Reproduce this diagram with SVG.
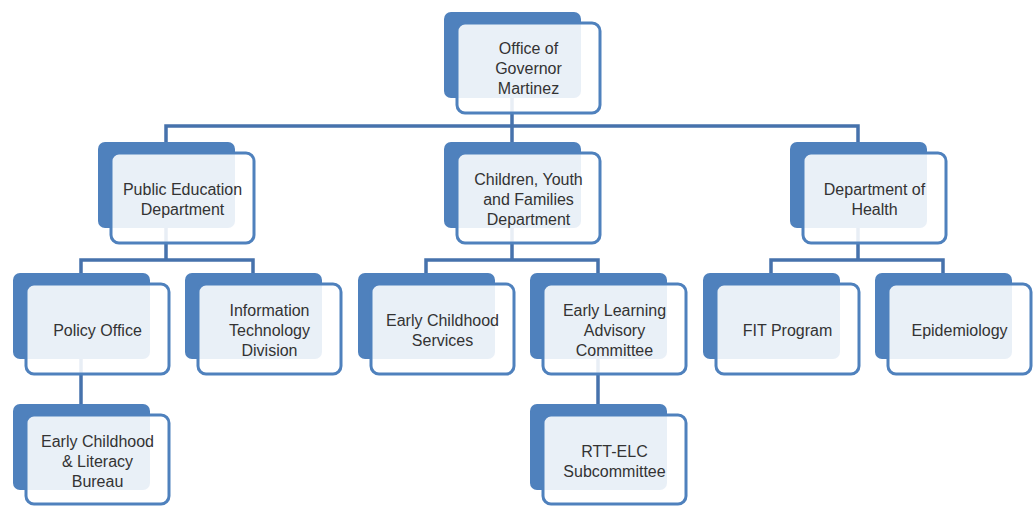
<svg xmlns="http://www.w3.org/2000/svg" width="1033" height="506" viewBox="0 0 1033 506">
<style>
.bk{fill:#4F81BD}
.fr{fill:#FFFFFF;fill-opacity:0.88;stroke:#4F81BD;stroke-width:3}
.cn{fill:none;stroke:#4672AC;stroke-width:3.5}
text{font-family:"Liberation Sans",Arial,sans-serif;font-size:16px;fill:#333333;text-anchor:middle;dominant-baseline:central}
</style>
<rect width="1033" height="506" fill="#FFFFFF"/>
<g id="connectors">
<path class="cn" d="M512,97 V126 M166,142 V126 H858 V142 M512,126 V142"/>
<path class="cn" d="M166,227 V260 M81,273 V260 H253 V273"/>
<path class="cn" d="M512,227 V260 M426,273 V260 H598 V273"/>
<path class="cn" d="M858,227 V260 M771,273 V260 H943 V273"/>
<path class="cn" d="M81,358 V404"/>
<path class="cn" d="M598,358 V404"/>
</g>
<g id="n-governor">
<rect class="bk" x="444" y="12" width="137" height="86" rx="7"/>
<rect class="fr" x="457" y="23" width="143" height="90" rx="8"/>
<text x="528.5" y="48">Office of</text><text x="528.5" y="68">Governor</text><text x="528.5" y="88">Martinez</text>
</g>
<g id="n-ped">
<rect class="bk" x="98" y="142" width="137" height="86" rx="7"/>
<rect class="fr" x="111" y="153" width="143" height="90" rx="8"/>
<text x="182.5" y="189">Public Education</text><text x="182.5" y="209">Department</text>
</g>
<g id="n-cyfd">
<rect class="bk" x="444" y="142" width="137" height="86" rx="7"/>
<rect class="fr" x="457" y="153" width="143" height="90" rx="8"/>
<text x="528.5" y="179">Children, Youth</text><text x="528.5" y="199">and Families</text><text x="528.5" y="219">Department</text>
</g>
<g id="n-doh">
<rect class="bk" x="790" y="142" width="137" height="86" rx="7"/>
<rect class="fr" x="803" y="153" width="143" height="90" rx="8"/>
<text x="874.5" y="189">Department of</text><text x="874.5" y="209">Health</text>
</g>
<g id="n-policy">
<rect class="bk" x="13" y="273" width="137" height="86" rx="7"/>
<rect class="fr" x="26" y="284" width="143" height="90" rx="8"/>
<text x="97.5" y="330">Policy Office</text>
</g>
<g id="n-itd">
<rect class="bk" x="185" y="273" width="137" height="86" rx="7"/>
<rect class="fr" x="198" y="284" width="143" height="90" rx="8"/>
<text x="269.5" y="310">Information</text><text x="269.5" y="330">Technology</text><text x="269.5" y="350">Division</text>
</g>
<g id="n-ecs">
<rect class="bk" x="358" y="273" width="137" height="86" rx="7"/>
<rect class="fr" x="371" y="284" width="143" height="90" rx="8"/>
<text x="442.5" y="320">Early Childhood</text><text x="442.5" y="340">Services</text>
</g>
<g id="n-elac">
<rect class="bk" x="530" y="273" width="137" height="86" rx="7"/>
<rect class="fr" x="543" y="284" width="143" height="90" rx="8"/>
<text x="614.5" y="310">Early Learning</text><text x="614.5" y="330">Advisory</text><text x="614.5" y="350">Committee</text>
</g>
<g id="n-fit">
<rect class="bk" x="703" y="273" width="137" height="86" rx="7"/>
<rect class="fr" x="716" y="284" width="143" height="90" rx="8"/>
<text x="787.5" y="330">FIT Program</text>
</g>
<g id="n-epi">
<rect class="bk" x="875" y="273" width="137" height="86" rx="7"/>
<rect class="fr" x="888" y="284" width="143" height="90" rx="8"/>
<text x="959.5" y="330">Epidemiology</text>
</g>
<g id="n-eclb">
<rect class="bk" x="13" y="404" width="137" height="86" rx="7"/>
<rect class="fr" x="26" y="415" width="143" height="89" rx="8"/>
<text x="97.5" y="441">Early Childhood</text><text x="97.5" y="461">&amp; Literacy</text><text x="97.5" y="481">Bureau</text>
</g>
<g id="n-rtt">
<rect class="bk" x="530" y="404" width="137" height="86" rx="7"/>
<rect class="fr" x="543" y="415" width="143" height="89" rx="8"/>
<text x="614.5" y="451">RTT-ELC</text><text x="614.5" y="471">Subcommittee</text>
</g>
</svg>
